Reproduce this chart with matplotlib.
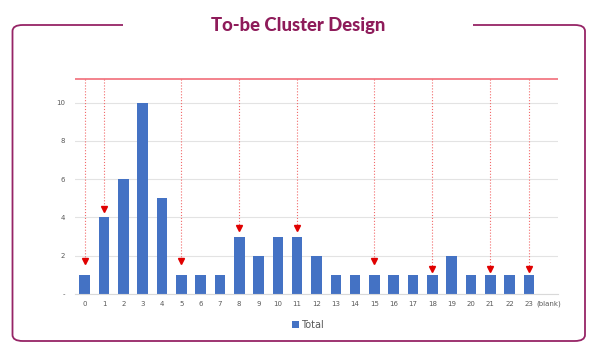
import matplotlib.pyplot as plt
import numpy as np
from matplotlib.patches import FancyBboxPatch, Rectangle

# data
categories = [str(i) for i in range(24)] + ['(blank)']
totals = [1, 4, 6, 10, 5, 1, 1, 1, 3, 2, 3, 3, 2, 1, 1, 1, 1, 1, 1, 2, 1, 1, 1, 1, 0]
arrow_cats = [0, 1, 5, 8, 11, 15, 18, 21, 23]
arrow_tips = [1.6, 4.3, 1.6, 3.3, 3.3, 1.6, 1.15, 1.15, 1.15]
red_level = 11.24
yticks = [0, 2, 4, 6, 8, 10]
ytick_labels = ['-', '2', '4', '6', '8', '10']

W, H = 602, 360
fig = plt.figure(figsize=(W / 100, H / 100), dpi=100)

# frame around the chart, with a gap for the title
frame_col = '#962466'
frame = FancyBboxPatch((12.5 / W, 1 - 341 / H), (585 - 12.5) / W, (341 - 25) / H,
                       boxstyle='round,pad=0,rounding_size=0.017',
                       transform=fig.transFigure, fill=False,
                       edgecolor=frame_col, linewidth=1.3)
fig.patches.append(frame)
fig.patches.append(Rectangle((123 / W, 1 - 30 / H), (473 - 123) / W, 10 / H,
                             transform=fig.transFigure, facecolor='white',
                             edgecolor='none', zorder=3))
fig.text(298.5 / W, 1 - 25 / H, 'To-be Cluster Design', ha='center', va='center',
         fontsize=13.3, fontweight='black', family='Lato', color='#8E1B5A', zorder=4)

ax = fig.add_axes([75 / W, 1 - 294 / H, 483 / W, 220 / H])
x = np.arange(len(categories))
ax.bar(x, totals, width=0.55, color='#4472C4', label='Total', zorder=2)
ax.set_xlim(-0.5, len(categories) - 0.5)
ax.set_ylim(0, 11.5)

ax.axhline(red_level, color='#F0606E', linewidth=1.1, zorder=3)
for c, t in zip(arrow_cats, arrow_tips):
    ax.plot([c, c], [red_level, t + 0.25], color='#F26A6A', linestyle=':',
            linewidth=0.8, zorder=3)
ax.plot(arrow_cats, [t + 0.15 for t in arrow_tips], linestyle='none', marker='v',
        markersize=5, color='#E00000', zorder=4)

ax.set_yticks(yticks)
ax.set_yticklabels(ytick_labels)
ax.set_xticks(x)
ax.set_xticklabels(categories)
ax.tick_params(axis='both', length=0, labelsize=5, colors='#595959')
ax.tick_params(axis='y', pad=7)
ax.tick_params(axis='x', pad=5)
ax.grid(axis='y', color='#E3E3E3', linewidth=0.8, zorder=0)
ax.set_axisbelow(True)
for s in ['top', 'right', 'left']:
    ax.spines[s].set_visible(False)
ax.spines['bottom'].set_color('#D9D9D9')
ax.spines['bottom'].set_linewidth(0.8)

fig.legend(loc='center', bbox_to_anchor=(308 / W, 1 - 325 / H), frameon=False,
           fontsize=7, handlelength=0.7, handleheight=0.7, handletextpad=0.3,
           labelcolor='#595959')

fig.savefig('out.png', dpi=100)
